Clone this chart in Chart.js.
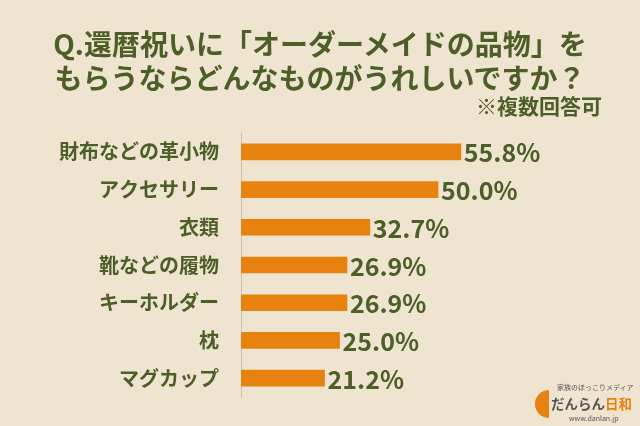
<!DOCTYPE html>
<html><head><meta charset="utf-8">
<script src="https://cdn.jsdelivr.net/npm/chart.js@4"></script>
<style>
html,body{margin:0;padding:0;background:#efe4cf;}
#wrap{position:relative;width:640px;height:426px;font-family:"Noto Sans CJK JP",sans-serif;color:#4d5e26;}
canvas{position:absolute;left:0;top:0;}
.t{position:absolute;left:0;width:640px;text-align:center;font-weight:bold;font-size:28px;line-height:32px;}
#note{position:absolute;right:38px;top:90px;font-weight:bold;font-size:21px;}
#logo{position:absolute;left:535px;top:382px;width:105px;height:44px;color:#555;}
</style></head><body>
<div id="wrap">
<canvas id="c" width="640" height="426"></canvas>
<div class="t" style="top:27px">Q.還暦祝いに「オーダーメイドの品物」を</div>
<div class="t" style="top:61px">もらうならどんなものがうれしいですか？</div>
<div id="note">※複数回答可</div>
<div id="logo">
 <div style="position:absolute;left:0;top:8px;width:28px;height:28px;border-radius:14px;background:#e8820f;clip-path:inset(0 50% 0 0)"></div>
 <div style="position:absolute;left:22px;top:0px;font-size:7px;white-space:nowrap">家族のほっこりメディア</div>
 <div style="position:absolute;left:16px;top:11px;font-size:13.5px;font-weight:bold;white-space:nowrap">だんらん<span style="color:#e8820f">日和</span></div>
 <div style="position:absolute;left:34px;top:31px;font-size:7px;white-space:nowrap">www.danlan.jp</div>
</div>
</div>
<script>
const categories=["財布などの革小物","アクセサリー","衣類","靴などの履物","キーホルダー","枕","マグカップ"];
const values=[55.8,50.0,32.7,26.9,26.9,25.0,21.2];
const green="#4d5e26";
const labelPlugin={id:"vals",afterDatasetsDraw(ch){const c=ch.ctx;const m=ch.getDatasetMeta(0);c.save();c.fillStyle=green;c.font="bold 25px 'Noto Sans CJK JP'";c.textBaseline="middle";m.data.forEach((b,i)=>{c.fillText(values[i].toFixed(1)+"%",b.x+3,b.y+1);});c.restore();}};
new Chart(document.getElementById("c"),{type:"bar",
data:{labels:categories,datasets:[{data:values,backgroundColor:"#e8820f",barThickness:16}]},
options:{indexAxis:"y",responsive:false,animation:false,
layout:{padding:{top:133,bottom:29,right:5,left:0}},
plugins:{legend:{display:false},tooltip:{enabled:false}},
scales:{x:{display:false,min:0,max:100},
y:{afterFit(s){s.width=241;},grid:{display:false,drawTicks:true},border:{color:"#c8c0b0"},
ticks:{color:green,padding:14,font:{family:"'Noto Sans CJK JP'",size:20,weight:"bold"}}}}},
plugins:[labelPlugin]});
</script></body></html>
